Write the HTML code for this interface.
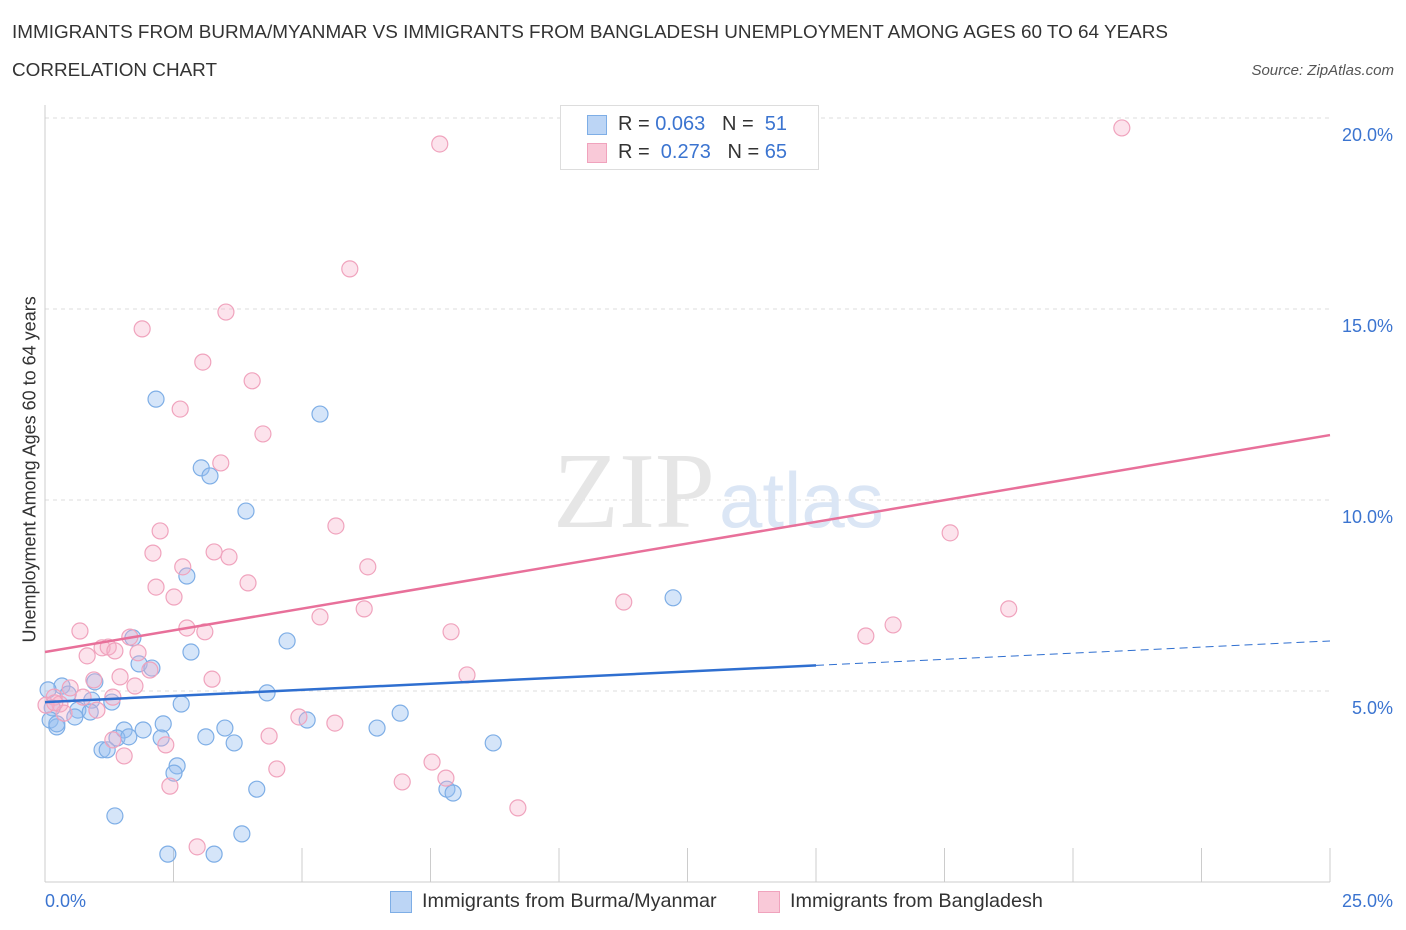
<!DOCTYPE html>
<html><head><meta charset="utf-8"><style>
body{margin:0;background:#fff;font-family:"Liberation Sans",sans-serif;}
#wrap{position:relative;width:1406px;height:930px;overflow:hidden;}
.t{position:absolute;white-space:nowrap;}
</style></head><body>
<div id="wrap">
<div class="t" style="left:12px;top:22px;font-size:18.9px;color:#333;">IMMIGRANTS FROM BURMA/MYANMAR VS IMMIGRANTS FROM BANGLADESH UNEMPLOYMENT AMONG AGES 60 TO 64 YEARS</div>
<div class="t" style="left:12px;top:60px;font-size:18.9px;color:#333;">CORRELATION CHART</div>
<div class="t" style="right:12px;top:62px;font-size:15px;color:#555;font-style:italic;">Source: ZipAtlas.com</div>
<svg id="svg" width="1406" height="930" style="position:absolute;left:0;top:0"></svg>
</div>
<script>
const blueX=[2.16,5.35,3.04,3.21,3.91,2.76,12.22,4.71,1.71,2.84,1.83,2.08,0.97,0.33,0.06,4.32,0.45,0.91,1.30,2.65,0.14,0.64,0.88,6.91,0.58,0.10,2.30,0.23,3.50,5.10,6.46,1.54,1.91,3.13,1.40,1.63,2.26,3.68,8.72,1.11,1.21,2.57,2.51,7.82,7.94,4.12,1.36,3.83,2.39,3.29,0.23];
const blueY=[12.64,12.25,10.84,10.63,9.71,8.01,7.44,6.31,6.39,6.02,5.71,5.60,5.24,5.13,5.03,4.95,4.92,4.76,4.71,4.66,4.56,4.50,4.45,4.42,4.32,4.24,4.14,4.06,4.03,4.24,4.03,3.98,3.98,3.80,3.77,3.80,3.77,3.64,3.64,3.46,3.46,3.04,2.85,2.43,2.33,2.43,1.73,1.26,0.73,0.73,4.14];
const pinkX=[20.95,7.68,5.93,3.52,1.89,3.07,4.03,2.63,4.24,3.42,5.66,17.61,2.24,2.10,3.29,3.58,6.28,2.68,3.95,2.16,2.51,11.26,18.75,6.21,5.35,2.76,0.68,3.11,7.90,15.97,16.50,1.65,1.11,1.23,1.36,0.82,1.81,2.04,8.21,1.46,3.25,0.95,1.75,0.49,0.18,0.74,1.32,0.29,0.02,1.01,0.37,4.94,5.64,4.36,1.32,2.35,1.54,4.51,7.53,7.80,6.95,2.43,9.20,2.96,0.19];
const pinkY=[19.74,19.32,16.05,14.92,14.48,13.61,13.12,12.38,11.73,10.97,9.32,9.14,9.19,8.61,8.64,8.51,8.25,8.25,7.83,7.72,7.46,7.33,7.15,7.15,6.94,6.65,6.57,6.55,6.55,6.44,6.73,6.41,6.13,6.15,6.05,5.92,6.00,5.55,5.42,5.37,5.31,5.29,5.13,5.08,4.84,4.84,4.84,4.66,4.63,4.50,4.42,4.32,4.16,3.82,3.72,3.59,3.30,2.96,3.14,2.72,2.62,2.51,1.94,0.92,4.69];
const yTicks=[5,10,15,20];
const yTickLabels=["5.0%","10.0%","15.0%","20.0%"];
const blueTrend=[4.71,6.31];
const pinkTrend=[6.02,11.70];
const NS="http://www.w3.org/2000/svg";
const svg=document.getElementById('svg');
const L=45,R=1330,B=882;
function sx(v){return L+v/25*(R-L);}
function sy(v){return B-v*38.2;}
function mk(tag,attrs){const e=document.createElementNS(NS,tag);for(const k in attrs)e.setAttribute(k,attrs[k]);svg.appendChild(e);return e;}
yTicks.forEach((t,i)=>{
 const g=mk('line',{x1:L,x2:R,y1:sy(t),y2:sy(t),stroke:'#ddd','stroke-dasharray':'4,4'});
 
 
 const tx=mk('text',{x:1393,y:sy(t)+23,'text-anchor':'end','font-size':'18',fill:'#3b74d0','font-family':'Liberation Sans'});
 tx.textContent=yTickLabels[i];
 
 
});
mk('line',{x1:L,x2:L,y1:105,y2:B,stroke:'#ccc'});
const ax=mk('line',{x1:L,x2:R,y1:B,y2:B,stroke:'#ccc'});


for(let i=0;i<=10;i++){const x=sx(i*2.5);mk('line',{x1:x,x2:x,y1:B,y2:848,stroke:'#ccc'});}
const wm=mk('text',{x:553,y:527,'font-size':'108',fill:'#e6e6e6','font-family':'Liberation Serif'});
wm.innerHTML='ZIP<tspan font-family="Liberation Sans" font-size="78" fill="#dbe6f5" dx="4">atlas</tspan>';


function pts(X,Y,fill,stroke,name){X.forEach((x,i)=>{const c=mk('circle',{cx:sx(x),cy:sy(Y[i]),r:8,fill:fill,stroke:stroke,'stroke-width':1.2});

});}
pts(blueX,blueY,'rgba(150,190,240,0.4)','#7eaee6','burma-point');
pts(pinkX,pinkY,'rgba(245,175,200,0.35)','#f0a3bd','bangladesh-point');
const bm=blueTrend[0]+(blueTrend[1]-blueTrend[0])*15/25;
let l1=mk('line',{x1:sx(0),y1:sy(blueTrend[0]),x2:sx(15),y2:sy(bm),stroke:'#2f6fd0','stroke-width':2.5});


mk('line',{x1:sx(15),y1:sy(bm),x2:sx(25),y2:sy(blueTrend[1]),stroke:'#2f6fd0','stroke-width':1,'stroke-dasharray':'8,5'});
let l2=mk('line',{x1:sx(0),y1:sy(pinkTrend[0]),x2:sx(25),y2:sy(pinkTrend[1]),stroke:'#e8709a','stroke-width':2.5});


</script>
<div class="t" style="left:45px;top:891px;font-size:18px;color:#3b74d0;">0.0%</div>
<div class="t" style="right:13px;top:891px;font-size:18px;color:#3b74d0;">25.0%</div>
<div class="t" style="left:-120px;top:482px;width:300px;text-align:center;font-size:18px;color:#333;transform:rotate(-90deg);">Unemployment Among Ages 60 to 64 years</div>
<div style="position:absolute;left:560px;top:105px;width:257px;height:63px;border:1px solid #ddd;background:#fff;">
 <div style="position:absolute;left:26px;top:9px;width:18px;height:18px;background:#bcd5f5;border:1px solid #7eaee6;"></div>
 <div class="t" style="left:57px;top:7px;font-size:20px;color:#333;">R = <span style="color:#3b74d0">0.063</span>&nbsp;&nbsp;&nbsp;N = &nbsp;<span style="color:#3b74d0">51</span></div>
 <div style="position:absolute;left:26px;top:37px;width:18px;height:18px;background:#f9c9d8;border:1px solid #f0a3bd;"></div>
 <div class="t" style="left:57px;top:35px;font-size:20px;color:#333;">R = &nbsp;<span style="color:#3b74d0">0.273</span>&nbsp;&nbsp;&nbsp;N = <span style="color:#3b74d0">65</span></div>
</div>
<div style="position:absolute;left:390px;top:891px;width:20px;height:20px;background:#bcd5f5;border:1px solid #7eaee6;"></div>
<div class="t" style="left:422px;top:890px;font-size:19.8px;color:#333;">Immigrants from Burma/Myanmar</div>
<div style="position:absolute;left:758px;top:891px;width:20px;height:20px;background:#f9c9d8;border:1px solid #f0a3bd;"></div>
<div class="t" style="left:790px;top:890px;font-size:19.8px;color:#333;">Immigrants from Bangladesh</div>
</body></html>
